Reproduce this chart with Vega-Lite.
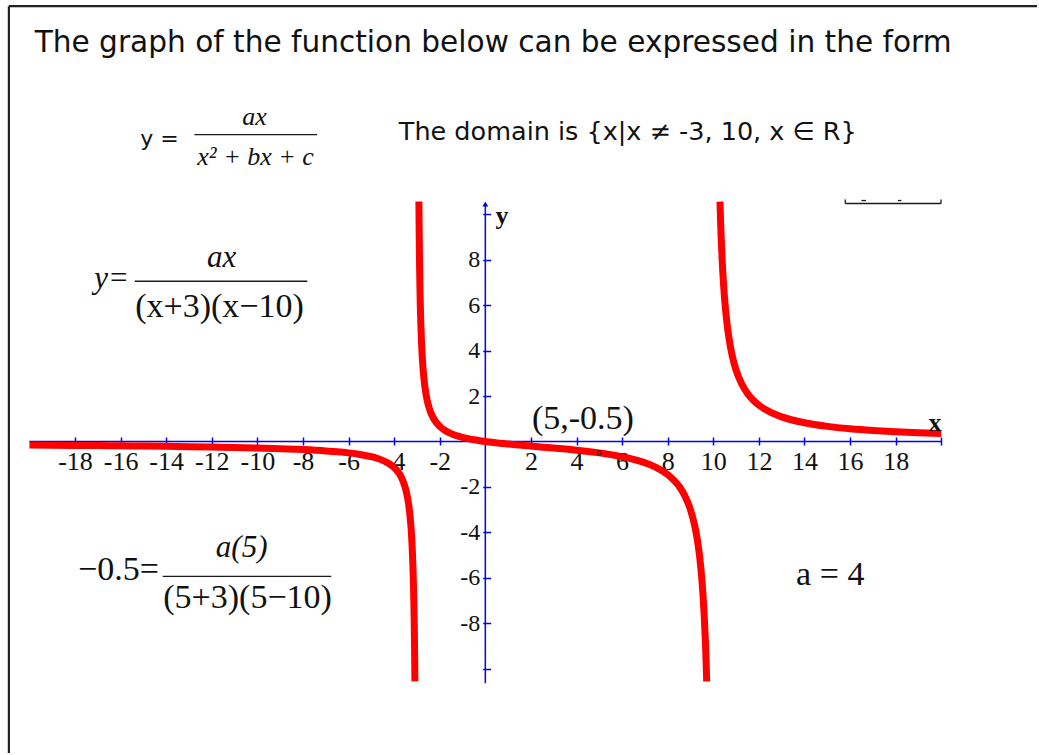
{
  "$schema": "https://vega.github.io/schema/vega-lite/v6.json",
  "width": 1039,
  "height": 755,
  "autosize": {"type": "fit", "contains": "padding"},
  "padding": 0,
  "background": "white",
  "config": {"view": {"stroke": null}},
  "encoding": {
    "x": {
      "field": "x",
      "type": "quantitative",
      "scale": {"domain": [-21.29, 24.2], "nice": false, "zero": false},
      "axis": {
        "orient": "bottom",
        "offset": -316,
        "values": [-18, -16, -14, -12, -10, -8, -6, -4, -2, 2, 4, 6, 8, 10, 12, 14, 16, 18, 20],
        "domain": false,
        "grid": false,
        "tickSize": 8,
        "tickColor": "#0000ff",
        "tickWidth": 1.5,
        "labelFont": "Liberation Serif",
        "labelFontSize": 26,
        "labelColor": "#111111",
        "labelPadding": 3,
        "labelOverlap": false,
        "labelFlush": false,
        "labelBound": false,
        "labelExpr": "datum.value == 20 ? '' : (datum.value < 0 ? '-' + abs(datum.value) : '' + datum.value)",
        "title": null
      }
    },
    "y": {
      "field": "y",
      "type": "quantitative",
      "scale": {"domain": [-13.7, 19.42], "nice": false, "zero": false},
      "axis": {
        "orient": "left",
        "offset": -490.7,
        "values": [-10, -8, -6, -4, -2, 2, 4, 6, 8, 10],
        "domain": false,
        "grid": false,
        "tickSize": 8,
        "tickColor": "#0000ff",
        "tickWidth": 1.5,
        "labelFont": "Liberation Serif",
        "labelFontSize": 24,
        "labelColor": "#111111",
        "labelPadding": 3,
        "labelOverlap": false,
        "labelFlush": false,
        "labelBound": false,
        "labelBaseline": "middle",
        "labelExpr": "abs(datum.value) == 10 ? '' : (datum.value < 0 ? '-' + abs(datum.value) : '' + datum.value)",
        "title": null
      }
    }
  },
  "layer": [
    {
      "data": {"values": [
        {"x": -20.9, "x2": 24.2, "y": 19.15, "y2": 19.15},
        {"x": -20.9, "x2": -20.9, "y": 19.15, "y2": -13.7}
      ]},
      "mark": {"type": "rule", "color": "#222222", "strokeWidth": 2.2},
      "encoding": {"x2": {"field": "x2"}, "y2": {"field": "y2"}}
    },
    {
      "data": {"values": [
        {"x": -12.76, "x2": -7.38, "y": 13.5, "y2": 13.5},
        {"x": -15.38, "x2": -7.81, "y": 7.05, "y2": 7.05},
        {"x": -14.15, "x2": -6.76, "y": -5.93, "y2": -5.93},
        {"x": 15.79, "x2": 19.99, "y": 10.47, "y2": 10.47},
        {"x": 15.79, "x2": 15.79, "y": 10.47, "y2": 10.65},
        {"x": 19.99, "x2": 19.99, "y": 10.47, "y2": 10.65},
        {"x": 16.5, "x2": 16.7, "y": 10.6, "y2": 10.6},
        {"x": 18.1, "x2": 18.25, "y": 10.6, "y2": 10.6}
      ]},
      "mark": {"type": "rule", "color": "#1a1a1a", "strokeWidth": 1.3},
      "encoding": {"x2": {"field": "x2"}, "y2": {"field": "y2"}}
    },
    {
      "data": {"values": [
        {"x": -20, "x2": 20, "y": 0, "y2": 0},
        {"x": 0, "x2": 0, "y": -10.63, "y2": 10.45}
      ]},
      "mark": {"type": "rule", "color": "#0000ff", "strokeWidth": 1.5},
      "encoding": {"x2": {"field": "x2"}, "y2": {"field": "y2"}}
    },
    {
      "data": {"values": [{"x": 0, "y": 10.45}]},
      "mark": {"type": "point", "shape": "triangle-up", "filled": true, "color": "#0000ff", "size": 35, "opacity": 1}
    },
    {
      "data": {"values": [
        {"branch": 1, "x": -20, "y": -0.1569},
        {"branch": 1, "x": -19, "y": -0.1638},
        {"branch": 1, "x": -18, "y": -0.1714},
        {"branch": 1, "x": -17, "y": -0.1799},
        {"branch": 1, "x": -16, "y": -0.1893},
        {"branch": 1, "x": -15, "y": -0.2},
        {"branch": 1, "x": -14, "y": -0.2121},
        {"branch": 1, "x": -13, "y": -0.2261},
        {"branch": 1, "x": -12, "y": -0.2424},
        {"branch": 1, "x": -11, "y": -0.2619},
        {"branch": 1, "x": -10, "y": -0.2857},
        {"branch": 1, "x": -9, "y": -0.3158},
        {"branch": 1, "x": -8, "y": -0.3556},
        {"branch": 1, "x": -7, "y": -0.4118},
        {"branch": 1, "x": -6.5, "y": -0.4502},
        {"branch": 1, "x": -6, "y": -0.5},
        {"branch": 1, "x": -5.5, "y": -0.5677},
        {"branch": 1, "x": -5, "y": -0.6667},
        {"branch": 1, "x": -4.75, "y": -0.7361},
        {"branch": 1, "x": -4.5, "y": -0.8276},
        {"branch": 1, "x": -4.25, "y": -0.9544},
        {"branch": 1, "x": -4, "y": -1.1429},
        {"branch": 1, "x": -3.9, "y": -1.247},
        {"branch": 1, "x": -3.8, "y": -1.3768},
        {"branch": 1, "x": -3.7, "y": -1.5433},
        {"branch": 1, "x": -3.6, "y": -1.7647},
        {"branch": 1, "x": -3.5, "y": -2.0741},
        {"branch": 1, "x": -3.4, "y": -2.5373},
        {"branch": 1, "x": -3.35, "y": -2.8678},
        {"branch": 1, "x": -3.3, "y": -3.3083},
        {"branch": 1, "x": -3.25, "y": -3.9245},
        {"branch": 1, "x": -3.2, "y": -4.8485},
        {"branch": 1, "x": -3.175, "y": -5.5083},
        {"branch": 1, "x": -3.15, "y": -6.3878},
        {"branch": 1, "x": -3.135, "y": -7.0718},
        {"branch": 1, "x": -3.12, "y": -7.9268},
        {"branch": 1, "x": -3.11, "y": -8.6263},
        {"branch": 1, "x": -3.1, "y": -9.4656},
        {"branch": 1, "x": -3.0895, "y": -10.549},
        {"branch": 2, "x": -2.9145, "y": 10.558},
        {"branch": 2, "x": -2.9, "y": 8.9922},
        {"branch": 2, "x": -2.89, "y": 8.1529},
        {"branch": 2, "x": -2.88, "y": 7.4534},
        {"branch": 2, "x": -2.865, "y": 6.5984},
        {"branch": 2, "x": -2.85, "y": 5.9144},
        {"branch": 2, "x": -2.825, "y": 5.0348},
        {"branch": 2, "x": -2.8, "y": 4.375},
        {"branch": 2, "x": -2.75, "y": 3.451},
        {"branch": 2, "x": -2.7, "y": 2.8346},
        {"branch": 2, "x": -2.6, "y": 2.0635},
        {"branch": 2, "x": -2.5, "y": 1.6},
        {"branch": 2, "x": -2.4, "y": 1.2903},
        {"branch": 2, "x": -2.25, "y": 0.9796},
        {"branch": 2, "x": -2, "y": 0.6667},
        {"branch": 2, "x": -1.75, "y": 0.4766},
        {"branch": 2, "x": -1.5, "y": 0.3478},
        {"branch": 2, "x": -1, "y": 0.1818},
        {"branch": 2, "x": -0.5, "y": 0.0762},
        {"branch": 2, "x": 0, "y": 0},
        {"branch": 2, "x": 1, "y": -0.1111},
        {"branch": 2, "x": 2, "y": -0.2},
        {"branch": 2, "x": 3, "y": -0.2857},
        {"branch": 2, "x": 4, "y": -0.381},
        {"branch": 2, "x": 5, "y": -0.5},
        {"branch": 2, "x": 6, "y": -0.6667},
        {"branch": 2, "x": 6.5, "y": -0.782},
        {"branch": 2, "x": 7, "y": -0.9333},
        {"branch": 2, "x": 7.5, "y": -1.1429},
        {"branch": 2, "x": 8, "y": -1.4545},
        {"branch": 2, "x": 8.5, "y": -1.971},
        {"branch": 2, "x": 8.75, "y": -2.383},
        {"branch": 2, "x": 9, "y": -3},
        {"branch": 2, "x": 9.2, "y": -3.7705},
        {"branch": 2, "x": 9.3, "y": -4.3206},
        {"branch": 2, "x": 9.4, "y": -5.0538},
        {"branch": 2, "x": 9.5, "y": -6.08},
        {"branch": 2, "x": 9.55, "y": -6.7641},
        {"branch": 2, "x": 9.6, "y": -7.619},
        {"branch": 2, "x": 9.65, "y": -8.7183},
        {"branch": 2, "x": 9.675, "y": -9.3946},
        {"branch": 2, "x": 9.7, "y": -10.1837},
        {"branch": 2, "x": 9.7105, "y": -10.556},
        {"branch": 3, "x": 10.2935, "y": 10.553},
        {"branch": 3, "x": 10.32, "y": 9.6847},
        {"branch": 3, "x": 10.35, "y": 8.8604},
        {"branch": 3, "x": 10.4, "y": 7.7612},
        {"branch": 3, "x": 10.45, "y": 6.9063},
        {"branch": 3, "x": 10.5, "y": 6.2222},
        {"branch": 3, "x": 10.6, "y": 5.1961},
        {"branch": 3, "x": 10.75, "y": 4.1697},
        {"branch": 3, "x": 10.9, "y": 3.4852},
        {"branch": 3, "x": 11, "y": 3.1429},
        {"branch": 3, "x": 11.25, "y": 2.5263},
        {"branch": 3, "x": 11.5, "y": 2.1149},
        {"branch": 3, "x": 12, "y": 1.6},
        {"branch": 3, "x": 12.5, "y": 1.2903},
        {"branch": 3, "x": 13, "y": 1.0833},
        {"branch": 3, "x": 14, "y": 0.8235},
        {"branch": 3, "x": 15, "y": 0.6667},
        {"branch": 3, "x": 16, "y": 0.5614},
        {"branch": 3, "x": 17, "y": 0.4857},
        {"branch": 3, "x": 18, "y": 0.4286},
        {"branch": 3, "x": 19, "y": 0.3838},
        {"branch": 3, "x": 20, "y": 0.3478}
      ]},
      "mark": {"type": "line", "color": "#ff0000", "strokeWidth": 7, "interpolate": "monotone"},
      "encoding": {"detail": {"field": "branch", "type": "nominal"}}
    },
    {
      "data": {"values": [{"x": 5, "y": -0.5}]},
      "mark": {"type": "point", "shape": "circle", "filled": false, "color": "#222222", "strokeWidth": 1, "size": 18, "opacity": 1}
    },
    {
      "data": {"values": [{"text": "The graph of the function below can be expressed in the form", "x": 0.34, "y": 17.14}]},
      "mark": {"type": "text", "font": "DejaVu Sans", "fontSize": 29.6, "color": "#111111", "align": "center", "baseline": "alphabetic"},
      "encoding": {"text": {"field": "text"}}
    },
    {
      "data": {"values": [{"text": "The domain is {x|x ≠ -3, 10, x ∈ R}", "x": 6.25, "y": 13.28}]},
      "mark": {"type": "text", "font": "DejaVu Sans", "fontSize": 25.5, "color": "#111111", "align": "center", "baseline": "alphabetic"},
      "encoding": {"text": {"field": "text"}}
    },
    {
      "data": {"values": [{"text": "y =", "x": -14.29, "y": 13.01}]},
      "mark": {"type": "text", "font": "DejaVu Sans", "fontSize": 22, "color": "#111111", "align": "center", "baseline": "alphabetic"},
      "encoding": {"text": {"field": "text"}}
    },
    {
      "data": {"values": [
        {"text": "ax", "x": -10.13, "y": 13.93},
        {"text": "x²  + bx + c", "x": -10.08, "y": 12.18}
      ]},
      "mark": {"type": "text", "font": "Liberation Serif", "fontStyle": "italic", "fontSize": 26, "color": "#111111", "align": "center", "baseline": "alphabetic"},
      "encoding": {"text": {"field": "text"}}
    },
    {
      "data": {"values": [
        {"text": "y=", "x": -16.39, "y": 6.74},
        {"text": "ax", "x": -11.57, "y": 7.66},
        {"text": "a(5)", "x": -10.69, "y": -5.06}
      ]},
      "mark": {"type": "text", "font": "Liberation Serif", "fontStyle": "italic", "fontSize": 31, "color": "#111111", "align": "center", "baseline": "alphabetic"},
      "encoding": {"text": {"field": "text"}}
    },
    {
      "data": {"values": [
        {"text": "(x+3)(x−10)", "x": -11.66, "y": 5.47},
        {"text": "−0.5=", "x": -16.09, "y": -6.11},
        {"text": "(5+3)(5−10)", "x": -10.43, "y": -7.34},
        {"text": "a = 4", "x": 15.13, "y": -6.33}
      ]},
      "mark": {"type": "text", "font": "Liberation Serif", "fontSize": 34, "color": "#111111", "align": "center", "baseline": "alphabetic"},
      "encoding": {"text": {"field": "text"}}
    },
    {
      "data": {"values": [{"text": "(5,-0.5)", "x": 4.28, "y": 0.56}]},
      "mark": {"type": "text", "font": "Liberation Serif", "fontSize": 34, "color": "#111111", "align": "center", "baseline": "alphabetic"},
      "encoding": {"text": {"field": "text"}}
    },
    {
      "data": {"values": [
        {"text": "y", "x": 0.73, "y": 9.55},
        {"text": "x", "x": 19.73, "y": 0.47}
      ]},
      "mark": {"type": "text", "font": "Liberation Serif", "fontWeight": "bold", "fontSize": 26, "color": "#111111", "align": "center", "baseline": "alphabetic"},
      "encoding": {"text": {"field": "text"}}
    }
  ]
}
